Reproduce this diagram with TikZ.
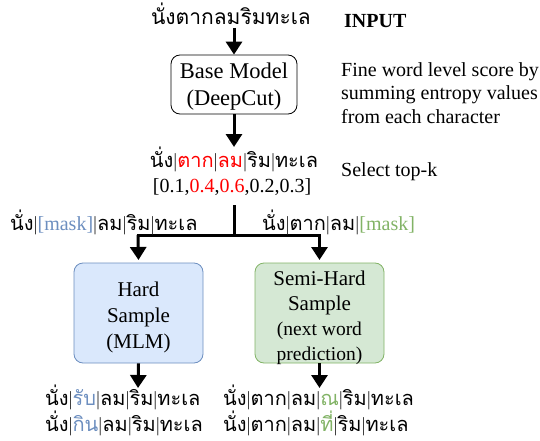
\documentclass[tikz,border=0pt]{standalone}
\usepackage{fontspec}
\setmainfont{Liberation Serif}
\newfontfamily\thai[Script=Thai]{Loma}
\usetikzlibrary{arrows.meta}
\definecolor{hblue}{HTML}{6C8EBF}
\definecolor{hgreen}{HTML}{82B366}
\definecolor{fblue}{HTML}{DAE8FC}
\definecolor{fgreen}{HTML}{D5E8D4}
\newcommand\vsep{{\rmfamily\color{black!75}|}}
\tikzset{
  flow/.style={line width=3pt,-{Triangle[width=16pt,length=13pt]}},
  thaitxt/.style={font=\thai\fontsize{20}{23}\selectfont,inner sep=0pt},
  latin/.style={font=\fontsize{20}{23.5}\selectfont,inner sep=0pt},
  procbox/.style={draw,rounded corners=9pt,line width=0.8pt,inner sep=0pt},
  boxtext/.style={align=center,inner sep=0pt},
}
\begin{document}
\begin{tikzpicture}[x=1pt,y=-1pt]
\useasboundingbox (0,0) rectangle (540,441);
% input
\node[thaitxt,anchor=base,font=\thai\fontsize{21}{24}\selectfont] (in) at (231,25) {นั่งตากลมริมทะเล};
\node[latin,anchor=base west,font=\bfseries\fontsize{20}{23}\selectfont] (inlbl) at (344,28) {INPUT};
% base model
\node[procbox,minimum width=126pt,minimum height=59pt] (base) at (234,84.5) {};
\node[boxtext,font=\fontsize{22.5}{27}\selectfont] (basetxt) at ([yshift=-2pt]base.center) {Base Model\\(DeepCut)};
\draw[flow] (234,28) coordinate (a0) -- (base.north);
\node[latin,anchor=base west,align=left] (note) at (341,123) {Fine word level score by\\summing entropy values\\from each character};
% scores
\node[thaitxt,anchor=base] (seg) at (234,167) {นั่ง\vsep{}\textcolor{red}{ตาก}\vsep{}\textcolor{red}{ลม}\vsep{}ริม\vsep{}ทะเล};
\coordinate (segtop) at (234,147);
\draw[flow] (base.south) -- (segtop);
\node[latin,anchor=base] (score) at (232,192) {[0.1,\textcolor{red}{0.4},\textcolor{red}{0.6},0.2,0.3]};
\node[latin,anchor=base west] (topk) at (341,176) {Select top-k};
% split
\coordinate (j0) at (234,205);
\coordinate (j1) at (234,235);
\coordinate (jl) at (138,235);
\coordinate (jr) at (319.5,235);
\node[procbox,draw=hblue,fill=fblue,minimum width=129pt,minimum height=100pt] (hard) at (138.5,313) {};
\node[boxtext,font=\fontsize{21}{26}\selectfont] (hardtxt) at ([yshift=-4pt]hard.center) {Hard\\Sample\\(MLM)};
\node[procbox,draw=hgreen,fill=fgreen,minimum width=129pt,minimum height=100pt] (semi) at (319.5,313) {};
\node[boxtext,font=\fontsize{21}{25}\selectfont] (semitxt) at ([yshift=-5pt]semi.center) {Semi-Hard\\Sample\\{\fontsize{19.5}{22}\selectfont(next word}\\{\fontsize{19.5}{22}\selectfont prediction)}};
\draw[line width=3pt] (j0) -- (j1);
\draw[line width=3pt] ([xshift=-1.5pt]jl) -- ([xshift=1.5pt]jr);
\draw[flow] (jl) -- (hard.north |- 0,260);
\draw[flow] (jr) -- (semi.north |- 0,260);
\node[thaitxt,anchor=base west] (ml) at (10,230) {นั่ง\vsep{}{\rmfamily\fontsize{20}{23}\selectfont\color{hblue}[mask]}\vsep{}ลม\vsep{}ริม\vsep{}ทะเล};
\node[thaitxt,anchor=base west] (mr) at (262,230) {นั่ง\vsep{}ตาก\vsep{}ลม\vsep{}{\rmfamily\fontsize{20}{23}\selectfont\color{hgreen}[mask]}};
% outputs
\coordinate (ol) at (138,388);
\coordinate (or) at (319.5,388);
\draw[flow] (hard.south) -- (ol);
\draw[flow] (semi.south) -- (or);
\node[thaitxt,anchor=base west] (o1) at (45,405) {นั่ง\vsep{}\textcolor{hblue}{รับ}\vsep{}ลม\vsep{}ริม\vsep{}ทะเล};
\node[thaitxt,anchor=base west] (o2) at (45,431) {นั่ง\vsep{}\textcolor{hblue}{กิน}\vsep{}ลม\vsep{}ริม\vsep{}ทะเล};
\node[thaitxt,anchor=base west] (o3) at (223,405) {นั่ง\vsep{}ตาก\vsep{}ลม\vsep{}\textcolor{hgreen}{ณ}\vsep{}ริม\vsep{}ทะเล};
\node[thaitxt,anchor=base west] (o4) at (223,431) {นั่ง\vsep{}ตาก\vsep{}ลม\vsep{}\textcolor{hgreen}{ที่}\vsep{}ริม\vsep{}ทะเล};
\end{tikzpicture}
\end{document}
